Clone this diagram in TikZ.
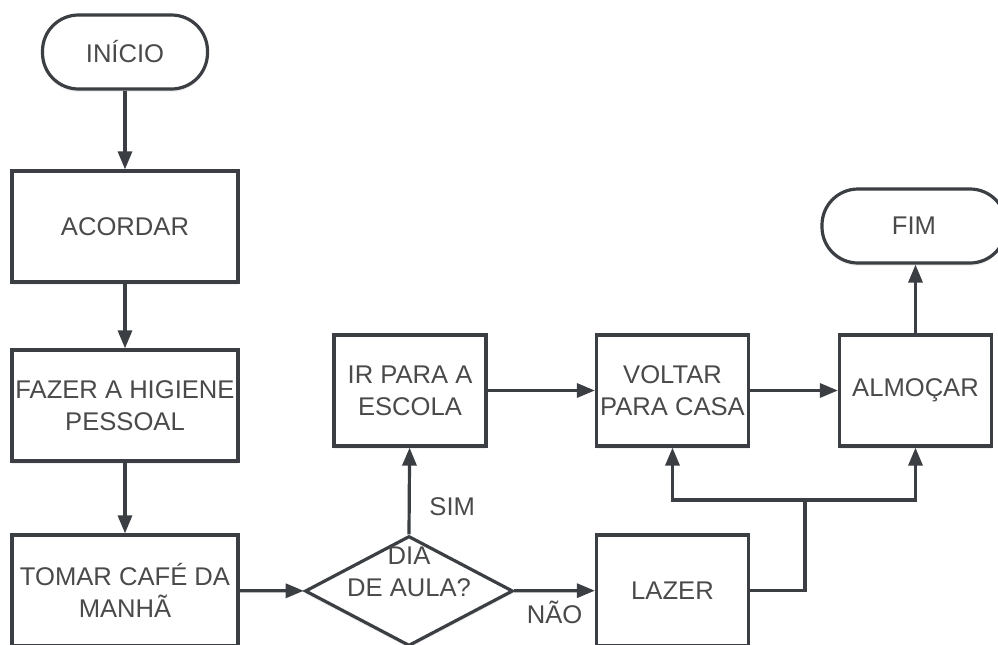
\documentclass[tikz,border=0pt]{standalone}
\usepackage{fontspec}
\setmainfont{Liberation Sans}
\usetikzlibrary{arrows.meta,shadows,shapes.geometric}
\begin{document}
\begin{tikzpicture}[
        x=0.5pt, y=-0.5pt,
        line width=1.6pt,
        every node/.style={text=txtgray, font=\fontsize{12.8}{16}\selectfont},
        base/.style={draw=linegray, fill=white, align=center, inner sep=0pt,
          drop shadow={opacity=0.12, shadow xshift=0pt, shadow yshift=-1.5pt}},
        term/.style={base, rounded corners=18pt, minimum width=82.5pt, minimum height=37pt},
        wbox/.style={base, minimum width=113pt, minimum height=55.5pt},
        nbox/.style={base, minimum width=76pt, minimum height=55.5pt},
        decision/.style={base, diamond, minimum width=104pt, minimum height=55pt},
        flow/.style={draw=linegray, -{Triangle[length=9pt, width=7pt]}},
        wire/.style={draw=linegray},
        tag/.style={font=\fontsize{12.8}{16}\selectfont},
      ]
      \definecolor{linegray}{HTML}{3B3F44}
      \definecolor{txtgray}{HTML}{4A4A4A}
      \path[use as bounding box] (0,0) rectangle (998,644);
      % coluna da esquerda
      \node[term] (inicio) at (125,52) {INÍCIO};
      \node[wbox] (acordar) at (125,226.5) {ACORDAR};
      \node[wbox] (higiene) at (125,405.5) {FAZER A HIGIENE\\PESSOAL};
      \node[wbox] (cafe) at (125,590.5) {TOMAR CAFÉ DA\\MANHÃ};
      % decisao
      \node[decision] (dia) at (409,591) {};
      \node (diatxt) at (409,572) [align=center] {DIA\\DE AULA?};
      % linha de cima
      \node[nbox] (escola) at (410,390.5) {IR PARA A\\ESCOLA};
      \node[nbox] (voltar) at (672.5,390.5) {VOLTAR\\PARA CASA};
      \node[nbox] (almocar) at (915.5,390.5) {ALMOÇAR};
      \node[term, minimum width=92pt] (fim) at (914,226) {FIM};
      \node[nbox] (lazer) at (672.5,590.5) {LAZER};
      \coordinate (split) at (805,500);
      \draw[flow] (inicio) -- (acordar);
      \draw[flow] (acordar) -- (higiene);
      \draw[flow] (higiene) -- (cafe);
      \draw[flow] (cafe) -- (dia);
      \draw[flow] (dia) -- (lazer) node[tag, midway, below=1pt] {NÃO};
      \draw[flow] (dia.north) -- (escola) node[tag, pos=0.32, right=6pt] {SIM};
      \draw[flow] (escola) -- (voltar);
      \draw[flow] (voltar) -- (almocar);
      \draw[flow] (almocar) -- (almocar |- fim.south);
      \draw[wire] (lazer.east) -| (split);
      \draw[flow] (split) -| (voltar.south);
      \draw[flow] (split) -| (almocar.south);
    \end{tikzpicture}
\end{document}
